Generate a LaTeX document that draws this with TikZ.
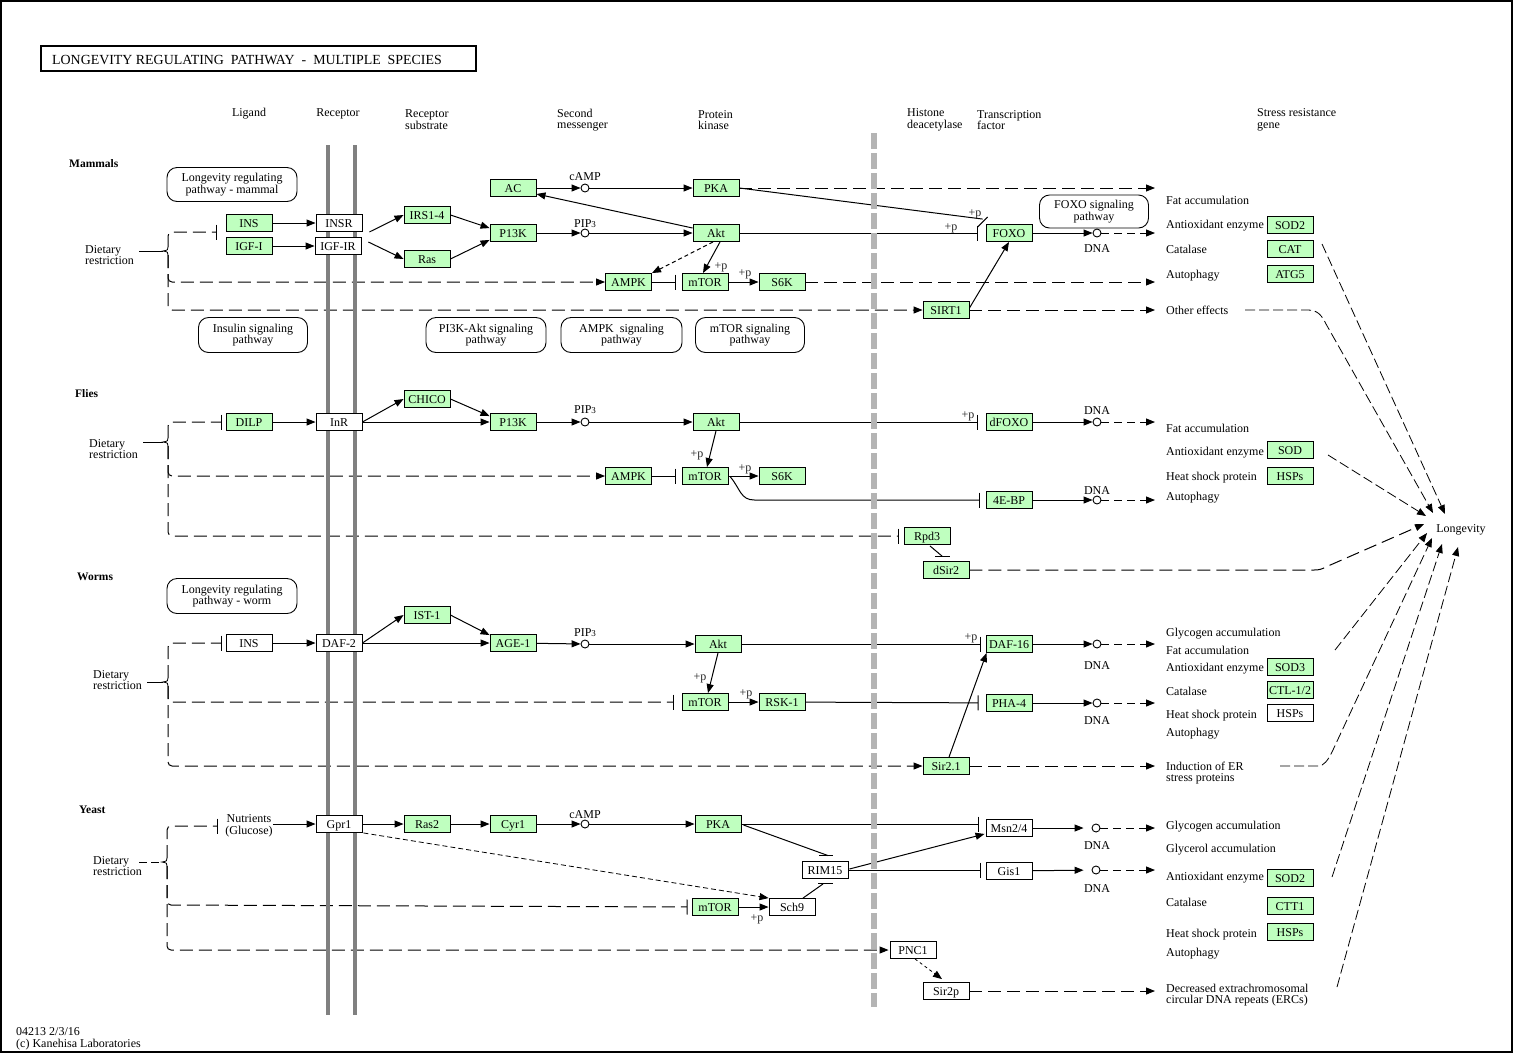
\documentclass[tikz,border=0pt]{standalone}
\usepackage{fontspec}
\setmainfont{Liberation Serif}
\usetikzlibrary{arrows.meta,calc}
\definecolor{kgreen}{RGB}{191,255,191}
\definecolor{memgray}{RGB}{128,128,128}
\definecolor{lgray}{RGB}{180,180,180}
\newcommand{\kfont}{\fontsize{12}{11.5}\selectfont}
\pgfdeclarelayer{bg}
\pgfdeclarelayer{mid}
\pgfsetlayers{bg,mid,main}
\begin{document}
\begin{tikzpicture}[x=1pt,y=-1pt,
  gb/.style={draw, fill=kgreen, minimum width=46pt, minimum height=17pt, inner sep=0pt, line width=0.9pt, font=\kfont, text height=8.5pt, text depth=0pt},
  wb/.style={gb, fill=white},
  cir/.style={circle, draw, fill=white, minimum size=8pt, inner sep=0pt, line width=0.9pt},
  tx/.style={font=\kfont, inner sep=0pt, text height=9.5pt, text depth=1.5pt},
  rt/.style={tx, anchor=west},
  ml/.style={font=\kfont, inner sep=0pt, align=left, anchor=west},
  pl/.style={tx, text=black!85},
  sp/.style={tx, anchor=west, font=\bfseries\fontsize{11.5}{12}\selectfont},
  pw/.style={draw, rounded corners=10pt, font=\kfont, align=center, line width=0.9pt, inner sep=0pt},
  ln/.style={line width=1pt},
  arr/.style={ln, -{Triangle[length=9pt,width=7pt]}},
  inh/.style={ln, -{Bar[width=15pt,line width=1pt]}},
  dl/.style={dash pattern=on 13pt off 6pt},
  dm/.style={dash pattern=on 8pt off 5pt},
  ds/.style={dash pattern=on 4pt off 3pt},
  lg/.style={line width=0.8pt, dash pattern=on 10pt off 4pt, -{Triangle[length=9pt,width=7pt]}},
]
\useasboundingbox (0,0) rectangle (1514,1053);
\draw[line width=1.5pt] (0.75,0.75) rectangle (1512,1052);

% title
\draw[line width=2pt] (41,46) rectangle (476,71);
\node[anchor=west, inner sep=0pt, font=\fontsize{13.9}{14}\selectfont] (title) at (52,60) {LONGEVITY REGULATING\ \ PATHWAY\ \ -\ \ MULTIPLE\ \ SPECIES};

% headers
\node[tx] (h1) at (249,112) {Ligand};
\node[tx] (h2) at (338,112) {Receptor};
\node[ml] (h3) at (405,119.5) {Receptor\\substrate};
\node[ml] (h4) at (557,120) {Second\\messenger};
\node[ml] (h5) at (698,120) {Protein\\kinase};
\node[ml] (h6) at (907,120) {Histone\\deacetylase};
\node[ml] (h7) at (977,120) {Transcription\\factor};
\node[ml] (h8) at (1257,120) {Stress resistance\\gene};

% species
\node[sp] (sMam) at (69,163) {Mammals};
\node[sp] (sFly) at (75,393) {Flies};
\node[sp] (sWor) at (77,576) {Worms};
\node[sp] (sYea) at (79,809) {Yeast};

% dietary labels
\node[ml] (dMam) at (85,255) {Dietary\\restriction};
\node[ml] (dFly) at (89,449) {Dietary\\restriction};
\node[ml] (dWor) at (93,680) {Dietary\\restriction};
\node[ml] (dYea) at (93,866) {Dietary\\restriction};

% pathway boxes
\node[pw, minimum width=130pt, minimum height=34pt] (pMam) at (232,184.5) {Longevity regulating\\pathway - mammal};
\node[pw, minimum width=109pt, minimum height=35pt] (pIns) at (253,335) {Insulin signaling\\pathway};
\node[pw, minimum width=120pt, minimum height=35pt] (pPI) at (486,335) {PI3K-Akt signaling\\pathway};
\node[pw, minimum width=121pt, minimum height=35pt] (pAMPK) at (621.5,335) {AMPK\ \ signaling\\pathway};
\node[pw, minimum width=109pt, minimum height=35pt] (pmTOR) at (750,335) {mTOR signaling\\pathway};
\node[pw, minimum width=130pt, minimum height=35pt] (pWor) at (232,596) {Longevity regulating\\pathway - worm};
\node[pw, minimum width=109pt, minimum height=33pt] (pFOXO) at (1094,211.5) {FOXO signaling\\pathway};

% ===== Mammals nodes
\node[gb] (mINS) at (249,223) {INS};
\node[gb] (mIGF) at (249,246) {IGF-I};
\node[wb] (mINSR) at (339,223) {INSR};
\node[wb] (mIGFR) at (338,246) {IGF-IR};
\node[gb] (mIRS) at (427,215) {IRS1-4};
\node[gb] (mRas) at (427,259) {Ras};
\node[gb] (mPI) at (513,233) {P13K};
\node[gb] (mAC) at (513,188) {AC};
\node[cir] (mcAMP) at (585,188) {};
\node[gb] (mPKA) at (716,188) {PKA};
\node[cir] (mPIP) at (585,233) {};
\node[gb] (mAkt) at (716,233) {Akt};
\node[gb] (mAMPK) at (628.5,282) {AMPK};
\node[gb] (mmTOR) at (705,282) {mTOR};
\node[gb] (mS6K) at (782,282) {S6K};
\node[gb] (mSIRT) at (946,310) {SIRT1};
\node[gb] (mFOXO) at (1009,233) {FOXO};
\node[cir] (mDNA) at (1097,233) {};
\node[gb] (mSOD) at (1290,225) {SOD2};
\node[gb] (mCAT) at (1290,249) {CAT};
\node[gb] (mATG) at (1290,274) {ATG5};
\node[tx] (lcAMP1) at (585,176) {cAMP};
\node[tx] (lPIP1) at (585,223) {PIP{\fontsize{9}{9}\selectfont 3}};
\node[tx] (lDNA1) at (1097,248) {DNA};
\node[pl] (p1) at (721,265) {+p};
\node[pl] (p2) at (745,272) {+p};
\node[pl] (p3) at (951,226) {+p};
\node[pl] (p4) at (975,212) {+p};
\node[rt] (r1) at (1166,200) {Fat accumulation};
\node[rt] (r2) at (1166,224) {Antioxidant enzyme};
\node[rt] (r3) at (1166,249) {Catalase};
\node[rt] (r4) at (1166,274) {Autophagy};
\node[rt] (r5) at (1166,310) {Other effects};
\coordinate (cm1) at (1155,188);
\coordinate (cm2) at (1155,233);
\coordinate (cm3) at (1155,282);
\coordinate (cm4) at (1155,310);
\coordinate (mBar) at (217,232);

% ===== Flies nodes
\node[gb] (fDILP) at (249,422) {DILP};
\node[wb] (fInR) at (339,422) {InR};
\node[gb] (fCHICO) at (427,399) {CHICO};
\node[gb] (fPI) at (513,422) {P13K};
\node[cir] (fPIP) at (585,422) {};
\node[gb] (fAkt) at (716,422) {Akt};
\node[gb] (fAMPK) at (628.5,476) {AMPK};
\node[gb] (fmTOR) at (705,476) {mTOR};
\node[gb] (fS6K) at (782,476) {S6K};
\node[gb] (fdFOXO) at (1009,422) {dFOXO};
\node[gb] (f4EBP) at (1009,500) {4E-BP};
\node[cir] (fDNA1) at (1097,422) {};
\node[cir] (fDNA2) at (1097,500) {};
\node[gb] (fRpd3) at (927,536) {Rpd3};
\node[gb] (fdSir2) at (946,570) {dSir2};
\node[gb] (fSOD) at (1290,450) {SOD};
\node[gb] (fHSP) at (1290,476) {HSPs};
\node[tx] (lPIP2) at (585,409) {PIP{\fontsize{9}{9}\selectfont 3}};
\node[tx] (lDNA2) at (1097,410) {DNA};
\node[tx] (lDNA3) at (1097,490) {DNA};
\node[pl] (p5) at (697,453) {+p};
\node[pl] (p6) at (745,467) {+p};
\node[pl] (p7) at (968,414) {+p};
\node[rt] (r6) at (1166,428) {Fat accumulation};
\node[rt] (r7) at (1166,451) {Antioxidant enzyme};
\node[rt] (r8) at (1166,476) {Heat shock protein};
\node[rt] (r9) at (1166,496) {Autophagy};
\coordinate (cf1) at (1155,422);
\coordinate (cf2) at (1155,500);

% ===== Worms nodes
\node[wb] (wINS) at (249,643) {INS};
\node[wb] (wDAF2) at (339,643) {DAF-2};
\node[gb] (wIST) at (427,615) {IST-1};
\node[gb] (wAGE) at (513,643) {AGE-1};
\node[cir] (wPIP) at (585,644) {};
\node[gb] (wAkt) at (718,644) {Akt};
\node[gb] (wmTOR) at (705,702) {mTOR};
\node[gb] (wRSK) at (782,702) {RSK-1};
\node[gb] (wDAF16) at (1009,644) {DAF-16};
\node[gb] (wPHA) at (1009,703) {PHA-4};
\node[gb] (wSir) at (946,766) {Sir2.1};
\node[cir] (wDNA1) at (1097,644) {};
\node[cir] (wDNA2) at (1097,703) {};
\node[gb] (wSOD3) at (1290,667) {SOD3};
\node[gb] (wCTL) at (1290,690) {CTL-1/2};
\node[wb] (wHSP) at (1290,713) {HSPs};
\node[tx] (lPIP3) at (585,632) {PIP{\fontsize{9}{9}\selectfont 3}};
\node[tx] (lDNA4) at (1097,665) {DNA};
\node[tx] (lDNA5) at (1097,720) {DNA};
\node[pl] (p8) at (700,676) {+p};
\node[pl] (p9) at (746,692) {+p};
\node[pl] (p10) at (971,636) {+p};
\node[rt] (r10) at (1166,632) {Glycogen accumulation};
\node[rt] (r11) at (1166,650) {Fat accumulation};
\node[rt] (r12) at (1166,667) {Antioxidant enzyme};
\node[rt] (r13) at (1166,691) {Catalase};
\node[rt] (r14) at (1166,714) {Heat shock protein};
\node[rt] (r15) at (1166,732) {Autophagy};
\node[ml] (r16) at (1166,773) {Induction of ER\\stress proteins};
\coordinate (cw1) at (1155,644);
\coordinate (cw2) at (1155,703);
\coordinate (cw3) at (1155,766);

% ===== Yeast nodes
\node[font=\kfont, inner sep=0pt, align=center] (yNut) at (249,826) {Nutrients\\(Glucose)};
\node[wb] (yGpr) at (339,824) {Gpr1};
\node[gb] (yRas2) at (427,824) {Ras2};
\node[gb] (yCyr) at (513,824) {Cyr1};
\node[cir] (ycAMP) at (585,824) {};
\node[gb] (yPKA) at (718,824) {PKA};
\node[wb] (yMsn) at (1009,828) {Msn2/4};
\node[wb] (yRIM) at (825,870) {RIM15};
\node[wb] (yGis) at (1009,871) {Gis1};
\node[gb] (ymTOR) at (715,907) {mTOR};
\node[wb] (ySch9) at (792,907) {Sch9};
\node[wb] (yPNC) at (913,950) {PNC1};
\node[wb] (ySir2p) at (946,991) {Sir2p};
\node[cir] (yDNA1) at (1096,828) {};
\node[cir] (yDNA2) at (1096,870) {};
\node[gb] (ySOD2) at (1290,878) {SOD2};
\node[gb] (yCTT) at (1290,906) {CTT1};
\node[gb] (yHSP) at (1290,932) {HSPs};
\node[tx] (lcAMP2) at (585,814) {cAMP};
\node[tx] (lDNA6) at (1097,845) {DNA};
\node[tx] (lDNA7) at (1097,888) {DNA};
\node[pl] (p11) at (757,917) {+p};
\node[rt] (r17) at (1166,825) {Glycogen accumulation};
\node[rt] (r18) at (1166,848) {Glycerol accumulation};
\node[rt] (r19) at (1166,876) {Antioxidant enzyme};
\node[rt] (r20) at (1166,902) {Catalase};
\node[rt] (r21) at (1166,933) {Heat shock protein};
\node[rt] (r22) at (1166,952) {Autophagy};
\node[ml] (r23) at (1166,995) {Decreased extrachromosomal\\circular DNA repeats (ERCs)};
\coordinate (cy1) at (1155,828);
\coordinate (cy2) at (1155,870);
\coordinate (cy3) at (1155,991);
\coordinate (yBar) at (218,826);

% longevity
\node[tx] (lgv) at (1461,528) {Longevity};
\coordinate (lgCAT) at (1322,244);
\coordinate (lgOth) at (1245,310);
\coordinate (lgSOD) at (1328,455);
\coordinate (lgSOD3) at (1335,650);
\coordinate (lgER) at (1280,766);
\coordinate (lgYSOD) at (1332,877);
\coordinate (lgERC) at (1337,987);

% footer
\node[tx, anchor=west] (f1) at (16,1031) {04213 2/3/16};
\node[tx, anchor=west] (f2) at (16,1043) {(c) Kanehisa Laboratories};

% ===== membranes
\begin{pgfonlayer}{mid}
\draw[line width=4pt, memgray] (328,145) -- (328,1015);
\draw[line width=4pt, memgray] (355,145) -- (355,1015);
\draw[line width=6pt, lgray, dash pattern=on 16pt off 4pt] (874,133) -- (874,1007);
\end{pgfonlayer}

\begin{pgfonlayer}{bg}
% ---- mammals
\draw[arr] (mINS) -- (mINSR);
\draw[arr] (mIGF) -- (mIGFR);
\draw[arr] ($(mINSR.south east)+(7,0)$) -- (mIRS.west);
\draw[arr] ($(mIGFR.north east)+(7,5)$) -- (mRas.west);
\draw[arr] (mIRS.east) -- ($(mPI.north west)+(0,4)$);
\draw[arr] (mRas.east) -- ($(mPI.south west)+(0,-2)$);
\draw[arr] (mAC) -- (mcAMP);
\draw[arr] (mcAMP) -- (mPKA);
\draw[arr] (mPI) -- (mPIP);
\draw[arr] (mPIP) -- (mAkt);
\draw[arr] ($(mAkt.west)+(0,-5)$) -- ($(mAC.east)+(0,6)$);
\draw[arr,ds] ($(mAkt.south)+(-3,0)$) -- (mAMPK.north east);
\draw[arr] ($(mAkt.south)+(4,0)$) -- ($(mmTOR.north)+(-2,0)$);
\draw[inh, shorten >=6pt] (mAMPK) -- (mmTOR);
\draw[arr] (mmTOR) -- (mS6K);
\draw[arr,dl] (mPKA.east) -- (cm1);
\draw[ln] (mPKA.east) -- ($(mFOXO.north west)+(-3,-5)$);
\draw[ln] ($(mFOXO.north west)+(-8,3)$) -- ($(mFOXO.north west)+(2,-7)$);
\draw[inh, shorten >=8pt] (mAkt) -- (mFOXO);
\draw[arr] ($(mSIRT.east)+(0,-2)$) -- (mFOXO.south);
\draw[arr,dl] (mSIRT) -- (cm4);
\draw[arr] (mFOXO) -- (mDNA);
\draw[arr,dm] (mDNA) -- (cm2);
\draw[arr,dl] (mS6K) -- (cm3);
% brace mammals
\draw[inh, dl, rounded corners=4pt] (168,247) -- (168,232) -- (mBar);
\draw[arr, dl, rounded corners=4pt] (168,255) -- (168,282) -- (mAMPK.west);
\draw[arr, dl, rounded corners=4pt] (168,255) -- (168,310) -- (mSIRT.west);
\draw[line width=0.8pt] (168,247) .. controls (168,250) .. (163,251) .. controls (168,252) .. (168,255);
\draw[ln] (139,251) -- (163,251);

% ---- flies
\draw[arr] (fDILP) -- (fInR);
\draw[arr] (fInR.east) -- (fCHICO.west);
\draw[arr] (fInR) -- (fPI);
\draw[arr] (fCHICO.east) -- ($(fPI.north west)+(0,3)$);
\draw[arr] (fPI) -- (fPIP);
\draw[arr] (fPIP) -- (fAkt);
\draw[arr] (fAkt.south) -- ($(fmTOR.north)+(2,0)$);
\draw[inh, shorten >=6pt] (fAMPK) -- (fmTOR);
\draw[arr] (fmTOR) -- (fS6K);
\draw[inh] ($(fmTOR.east)+(2,1)$) .. controls +(10,12) and +(-14,0) .. ($(fmTOR.east)+(26,24)$) -- ($(f4EBP.west)+(-6,0)$);
\draw[inh, shorten >=8pt] (fAkt) -- (fdFOXO);
\draw[arr] (fdFOXO) -- (fDNA1);
\draw[arr,dm] (fDNA1) -- (cf1);
\draw[arr] (f4EBP) -- (fDNA2);
\draw[arr,dm] (fDNA2) -- (cf2);
\draw[ln] ($(fRpd3.south)+(3,1)$) -- ($(fdSir2.north)+(-4,-5)$);
\draw[ln] ($(fdSir2.north)+(-11,-5)$) -- ($(fdSir2.north)+(4,-5)$);
% brace flies
\draw[inh, dl, rounded corners=4pt, shorten >=4pt] (168,438) -- (168,422) -- (fDILP.west);
\draw[arr, dl, rounded corners=4pt] (168,446) -- (168,476) -- (fAMPK.west);
\draw[inh, dl, rounded corners=4pt, shorten >=5pt] (168,446) -- (168,536) -- (fRpd3.west);
\draw[line width=0.8pt] (168,438) .. controls (168,441) .. (163,442) .. controls (168,443) .. (168,446);
\draw[ln] (143,442) -- (163,442);

% ---- worms
\draw[arr] (wINS) -- (wDAF2);
\draw[arr] (wDAF2.east) -- (wIST.west);
\draw[arr] (wDAF2) -- (wAGE);
\draw[arr] (wIST.east) -- ($(wAGE.north west)+(0,1)$);
\draw[arr] (wAGE) -- (wPIP);
\draw[arr] (wPIP) -- (wAkt);
\draw[arr] (wAkt.south) -- ($(wmTOR.north)+(3,0)$);
\draw[arr] (wmTOR) -- (wRSK);
\draw[inh, shorten >=7pt] (wRSK) -- (wPHA);
\draw[inh, shorten >=5pt] (wAkt) -- (wDAF16);
\draw[arr] ($(wSir.north)+(3,0)$) -- ($(wDAF16.south west)+(1,0)$);
\draw[arr,dl] (wSir) -- (cw3);
\draw[arr] (wDAF16) -- (wDNA1);
\draw[arr,dm] (wDNA1) -- (cw1);
\draw[arr] (wPHA) -- (wDNA2);
\draw[arr,dm] (wDNA2) -- (cw2);
% brace worms
\draw[inh, dl, rounded corners=4pt, shorten >=4pt] (168,678) -- (168,643) -- (wINS.west);
\draw[inh, dl, rounded corners=4pt, shorten >=8pt] (168,686) -- (168,702) -- (wmTOR.west);
\draw[arr, dl, rounded corners=4pt] (168,686) -- (168,766) -- (wSir.west);
\draw[line width=0.8pt] (168,678) .. controls (168,681) .. (163,682) .. controls (168,683) .. (168,686);
\draw[ln] (147,682) -- (163,682);

% ---- yeast
\draw[arr] (yNut.east |- yGpr.west) -- (yGpr.west);
\draw[arr] (yGpr) -- (yRas2);
\draw[arr] (yRas2) -- (yCyr);
\draw[arr] (yCyr) -- (ycAMP);
\draw[arr] (ycAMP) -- (yPKA);
\draw[arr, line width=0.8pt, dash pattern=on 5pt off 3pt] ($(yGpr.south east)+(1,0)$) -- (ySch9.north west);
\draw[inh, shorten >=7pt] (yPKA.east) -- (yPKA.east -| yMsn.west);
\draw[ln] ($(yPKA.east)+(2,1)$) -- ($(yRIM.north)+(3,-5.5)$);
\draw[ln] ($(yRIM.north)+(-6,-5.5)$) -- ($(yRIM.north)+(8,-5.5)$);
\draw[ln] ($(ySch9.north)+(11,0)$) -- ($(yRIM.south)+(-2,5)$);
\draw[ln] ($(yRIM.south)+(-7,5)$) -- ($(yRIM.south)+(8,5)$);
\draw[arr] (ymTOR) -- (ySch9);
\draw[arr] ($(yRIM.east)+(1,-1)$) -- ($(yMsn.south west)+(-1,-3)$);
\draw[inh, shorten >=5pt] (yRIM.east) -- (yRIM.east -| yGis.west);
\draw[arr, shorten >=8pt] (yMsn) -- (yDNA1);
\draw[arr,dm] (yDNA1) -- (cy1);
\draw[arr, shorten >=8pt] (yGis) -- (yDNA2);
\draw[arr,dm] (yDNA2) -- (cy2);
\draw[arr, line width=0.8pt, dash pattern=on 3pt off 3pt] ($(yPNC.south)+(2,0)$) -- ($(ySir2p.north)+(-4,-3)$);
\draw[arr,dl] (ySir2p) -- (cy3);
% brace yeast
\draw[inh, dl, rounded corners=4pt] (167,858) -- (167,826) -- (yBar);
\draw[inh, dl, rounded corners=4pt, shorten >=4pt] (167,866) -- (167,905) -- (ymTOR.west);
\draw[arr, dl, rounded corners=4pt, shorten >=1pt] (167,866) -- (167,950) -- (yPNC.west);
\draw[line width=0.8pt] (167,858) .. controls (167,861) .. (162,862) .. controls (167,863) .. (167,866);
\draw[ln, dash pattern=on 8pt off 4pt] (139,862) -- (162,862);

% ---- longevity
\draw[lg] (lgCAT) -- ($(lgv)+(-16,-14)$);
\draw[lg] (lgOth) -- (1308,310) .. controls (1318,310) and (1322,316) .. (1326,324) -- ($(lgv)+(-28,-15)$);
\draw[lg] (lgSOD) -- ($(lgv)+(-35,-12)$);
\draw[lg, line width=1pt, dl] (fdSir2.east) -- (1314,570) .. controls (1320,570) and (1322,569) .. (1328,566) -- ($(lgv)+(-37,-4)$);
\draw[lg] (lgSOD3) -- ($(lgv)+(-34,5)$);
\draw[lg] (lgER) -- (1318,766) .. controls (1324,766) and (1328,760) .. (1332,752) -- ($(lgv)+(-29,10)$);
\draw[lg] (lgYSOD) -- ($(lgv)+(-19,16)$);
\draw[lg] (lgERC) -- ($(lgv)+(-3,19)$);
\end{pgfonlayer}
\end{tikzpicture}
\end{document}
